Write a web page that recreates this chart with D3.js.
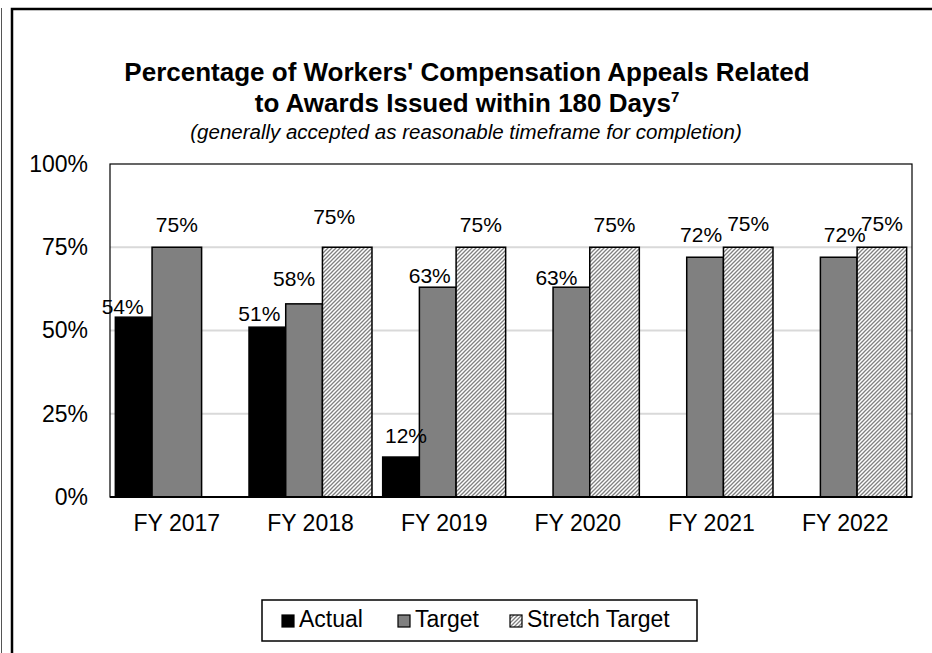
<!DOCTYPE html>
<html>
<head>
<meta charset="utf-8">
<script src="https://cdn.jsdelivr.net/npm/d3@7"></script>
<style>
  body { margin: 0; background: #fff; }
  svg text { font-family: "Liberation Sans", Arial, sans-serif; fill: #000; }
</style>
</head>
<body>
<div class="container-chart"></div>
<script>
// chart data
var categories = ["FY 2017", "FY 2018", "FY 2019", "FY 2020", "FY 2021", "FY 2022"];
var seriesNames = ["Actual", "Target", "Stretch Target"];
var actual = [54, 51, 12, null, null, null];
var target = [75, 58, 63, 63, 72, 72];
var stretch = [null, 75, 75, 75, 75, 75];
var yTicks = [0, 25, 50, 75, 100];

// manual label offsets (the labels were dragged by hand in the original)
var labelNudge = {
    "Actual|FY 2017": [-11, 12],
    "Actual|FY 2018": [-8, 9],
    "Target|FY 2018": [-10, -3],
    "Stretch Target|FY 2018": [-13, -8],
    "Actual|FY 2019": [5, 1],
    "Target|FY 2019": [-8, 11],
    "Target|FY 2020": [-15, 13],
    "Target|FY 2021": [-4, 0],
    "Target|FY 2022": [6, 0],
    "Stretch Target|FY 2021": [0, -1],
    "Stretch Target|FY 2022": [0, -1]
};

var width = 932, height = 653;
var plot = { left: 110, right: 912, top: 164, bottom: 497 };

var svg = d3.select(".container-chart")
    .append("svg")
    .attr("width", width)
    .attr("height", height);

// hatch pattern for the stretch target
var defs = svg.append("defs");
var pat = defs.append("pattern")
    .attr("id", "hatch")
    .attr("patternUnits", "userSpaceOnUse")
    .attr("width", 4)
    .attr("height", 4);
pat.append("rect").attr("width", 4).attr("height", 4).attr("fill", "#fff");
pat.append("path")
    .attr("d", "M-1,1 l2,-2 M0,4 l4,-4 M3,5 l2,-2")
    .attr("stroke", "#808080")
    .attr("stroke-width", 1.3);

var fills = { "Actual": "#000", "Target": "#808080", "Stretch Target": "url(#hatch)" };

// outer frame
svg.append("path")
    .attr("d", "M12," + height + "V9H" + width)
    .attr("fill", "none")
    .attr("stroke", "#000")
    .attr("stroke-width", 2.5);
svg.append("line")
    .attr("x1", 1.5).attr("x2", 1.5).attr("y1", 8).attr("y2", height)
    .attr("stroke", "#555").attr("stroke-width", 1);

// titles
svg.append("text")
    .attr("x", 467).attr("y", 81)
    .attr("text-anchor", "middle")
    .style("font-size", "26px").style("font-weight", "bold")
    .text("Percentage of Workers' Compensation Appeals Related");
var t2 = svg.append("text")
    .attr("x", 467).attr("y", 112)
    .attr("text-anchor", "middle")
    .style("font-size", "26px").style("font-weight", "bold");
t2.append("tspan").text("to Awards Issued within 180 Days");
t2.append("tspan").attr("dy", -10).style("font-size", "15px").text("7");
svg.append("text")
    .attr("x", 466).attr("y", 139)
    .attr("text-anchor", "middle")
    .style("font-size", "20.5px").style("font-style", "italic")
    .text("(generally accepted as reasonable timeframe for completion)");

// scales
var x0 = d3.scaleBand()
    .domain(categories)
    .range([plot.left, plot.right])
    .paddingInner(0.08)
    .paddingOuter(0.04);

var weights = [1, 1, 1.35];
var xSub = d3.scaleLinear()
    .domain([0, d3.sum(weights)])
    .range([0, x0.bandwidth()]);

var y = d3.scaleLinear().domain([0, 100]).range([plot.bottom, plot.top]);

// gridlines
svg.append("g")
    .selectAll("line")
    .data(yTicks.filter(function (d) { return d > 0 && d < 100; }))
    .enter()
    .append("line")
    .attr("x1", plot.left).attr("x2", plot.right)
    .attr("y1", function (d) { return y(d); })
    .attr("y2", function (d) { return y(d); })
    .attr("stroke", "#d9d9d9")
    .attr("stroke-width", 2);

// plot border
svg.append("rect")
    .attr("x", plot.left).attr("y", plot.top)
    .attr("width", plot.right - plot.left)
    .attr("height", plot.bottom - plot.top)
    .attr("fill", "none")
    .attr("stroke", "#000")
    .attr("stroke-width", 1.2);

// build bar list
var values = [actual, target, stretch];
var bars = [];
categories.forEach(function (c, i) {
    values.forEach(function (arr, s) {
        if (arr[i] == null) return;
        var start = d3.sum(weights.slice(0, s));
        var w = weights[s];
        // a target bar with no stretch bar beside it takes the wide slot width
        if (s === 1 && stretch[i] == null) w = weights[2];
        bars.push({
            cat: c,
            series: seriesNames[s],
            value: arr[i],
            x: x0(c) + xSub(start),
            w: xSub(w) - xSub(0)
        });
    });
});

svg.append("g")
    .selectAll("rect")
    .data(bars)
    .enter()
    .append("rect")
    .attr("x", function (d) { return d.x; })
    .attr("y", function (d) { return y(d.value); })
    .attr("width", function (d) { return d.w; })
    .attr("height", function (d) { return y(0) - y(d.value); })
    .attr("fill", function (d) { return fills[d.series]; })
    .attr("stroke", "#000")
    .attr("stroke-width", 1.5);

// data labels
svg.append("g")
    .selectAll("text")
    .data(bars)
    .enter()
    .append("text")
    .attr("text-anchor", "middle")
    .style("font-size", "21px")
    .attr("x", function (d) {
        var n = labelNudge[d.series + "|" + d.cat] || [0, 0];
        return d.x + d.w / 2 + n[0];
    })
    .attr("y", function (d) {
        var n = labelNudge[d.series + "|" + d.cat] || [0, 0];
        return y(d.value) - 15 + n[1];
    })
    .text(function (d) { return d.value + "%"; });

// axes
var yAxis = svg.append("g")
    .attr("transform", "translate(" + plot.left + ",0)")
    .call(d3.axisLeft(y).tickValues(yTicks).tickSize(0).tickPadding(22)
        .tickFormat(function (d) { return d + "%"; }));
yAxis.select(".domain").remove();
yAxis.selectAll("text").style("font-size", "23px").attr("fill", "#000");

var xAxis = svg.append("g")
    .attr("transform", "translate(0," + plot.bottom + ")")
    .call(d3.axisBottom(x0).tickSize(0).tickPadding(18));
xAxis.select(".domain").remove();
xAxis.selectAll("text").style("font-size", "23px").attr("fill", "#000");

svg.append("line")
    .attr("x1", plot.left).attr("x2", plot.right)
    .attr("y1", plot.bottom).attr("y2", plot.bottom)
    .attr("stroke", "#000").attr("stroke-width", 2);

// legend
var legend = svg.append("g");
legend.append("rect")
    .attr("x", 262).attr("y", 600)
    .attr("width", 435).attr("height", 41)
    .attr("fill", "#fff")
    .attr("stroke", "#000")
    .attr("stroke-width", 1.5);

var legendX = [282, 398, 510];
var items = legend.selectAll(".item")
    .data(seriesNames)
    .enter()
    .append("g")
    .attr("class", "item")
    .attr("transform", function (d, i) { return "translate(" + legendX[i] + ",615)"; });
items.append("rect")
    .attr("width", 12).attr("height", 12)
    .attr("fill", function (d) { return fills[d]; })
    .attr("stroke", "#000")
    .attr("stroke-width", 1.2);
items.append("text")
    .attr("x", 17).attr("y", 12)
    .style("font-size", "23px")
    .text(function (d) { return d; });
</script>
</body>
</html>
